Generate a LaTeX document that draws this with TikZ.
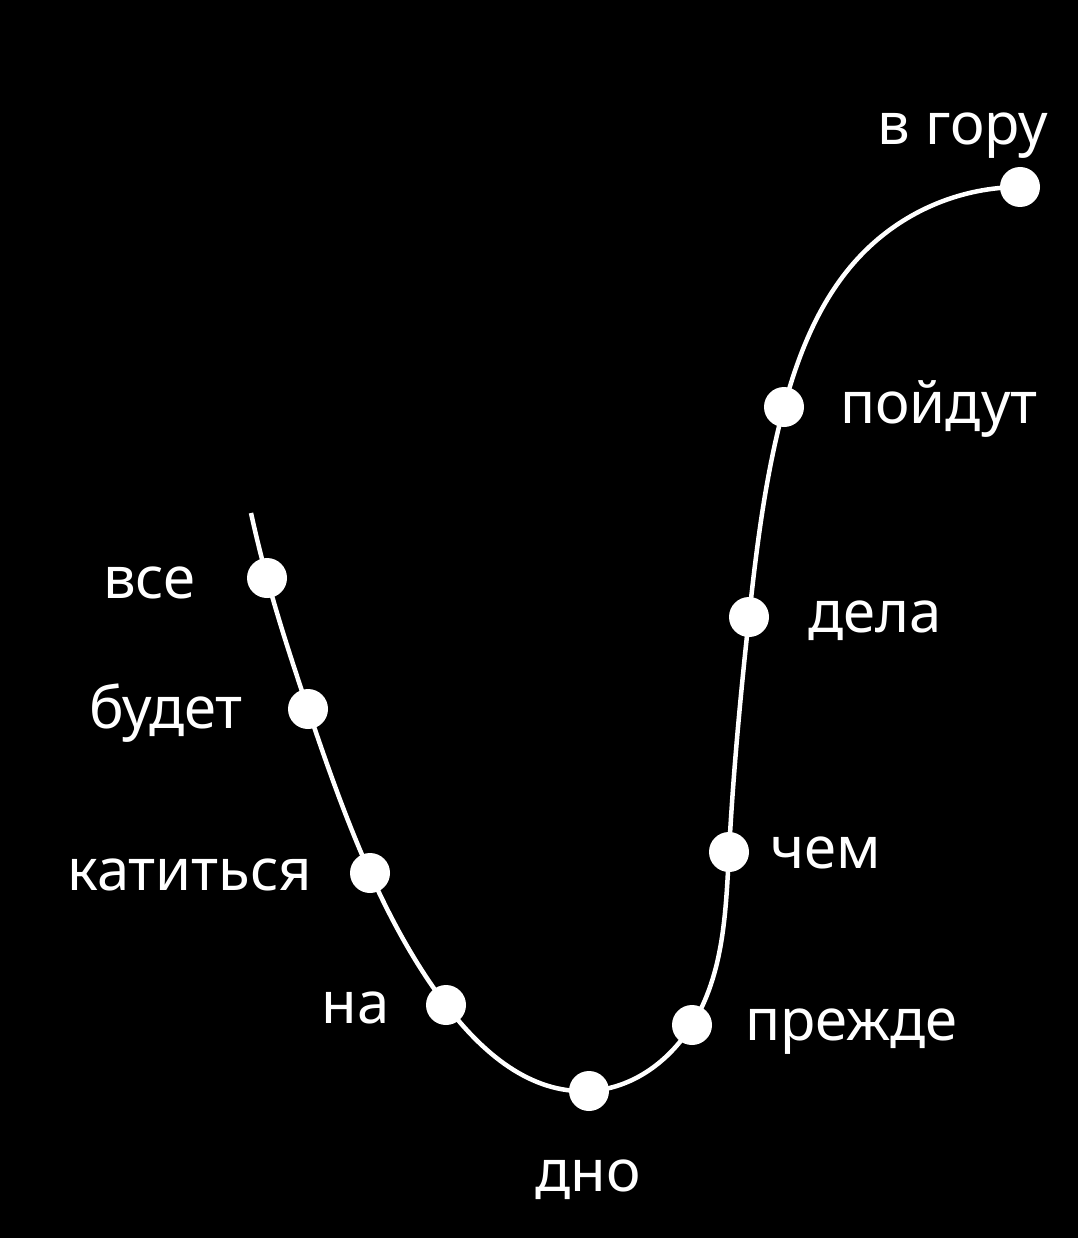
\documentclass[tikz,border=0pt]{standalone}
\usepackage{fontspec}
\setmainfont{Noto Sans}
\usetikzlibrary{hobby}
\begin{document}
\begin{tikzpicture}[x=1pt,y=-1pt,
  dot/.style={circle,fill=white,draw=none,minimum size=40pt,inner sep=0pt},
  lbl/.style={text=white,font=\fontsize{58}{62}\selectfont,inner sep=0pt},
  curve/.style={draw=white,line width=4.5pt}]
\fill[black] (0,0) rectangle (1078,1238);
\useasboundingbox (0,0) rectangle (1078,1238);
\coordinate (s) at (251,513);
\coordinate (p1) at (267,578);
\coordinate (p2) at (308,709);
\coordinate (p3) at (370,873);
\coordinate (p4) at (446,1005);
\coordinate (p5) at (589,1091);
\coordinate (p6) at (692,1025);
\coordinate (p7) at (729,852);
\coordinate (p8) at (749,617);
\coordinate (p9) at (784,407);
\coordinate (m) at (865,251);
\coordinate (p10) at (1020,187);
\draw[curve,use Hobby shortcut] (s) .. (p1) .. (p2) .. (p3) .. (p4) .. (p5) .. (p6) .. (p7) .. (p8) .. (p9) .. (m) .. (p10);
\node[dot] (d1) at (p1) {};
\node[dot] (d2) at (p2) {};
\node[dot] (d3) at (p3) {};
\node[dot] (d4) at (p4) {};
\node[dot] (d5) at (p5) {};
\node[dot] (d6) at (p6) {};
\node[dot] (d7) at (p7) {};
\node[dot] (d8) at (p8) {};
\node[dot] (d9) at (p9) {};
\node[dot] (d10) at (p10) {};
\node[lbl,anchor=base east] (t1) at (196,598) {все};
\node[lbl,anchor=base east] (t2) at (243,728) {будет};
\node[lbl,anchor=base east] (t3) at (312,890) {катиться};
\node[lbl,anchor=base east] (t4) at (390,1023) {на};
\node[lbl,anchor=base] (t5) at (588,1191) {дно};
\node[lbl,anchor=base west] (t6) at (745,1040) {прежде};
\node[lbl,anchor=base west] (t7) at (770,868) {чем};
\node[lbl,anchor=base west] (t8) at (808,632) {дела};
\node[lbl,anchor=base west] (t9) at (840,423) {пойдут};
\node[lbl,anchor=base east] (t10) at (1048,145) {в гору};
\end{tikzpicture}
\end{document}
